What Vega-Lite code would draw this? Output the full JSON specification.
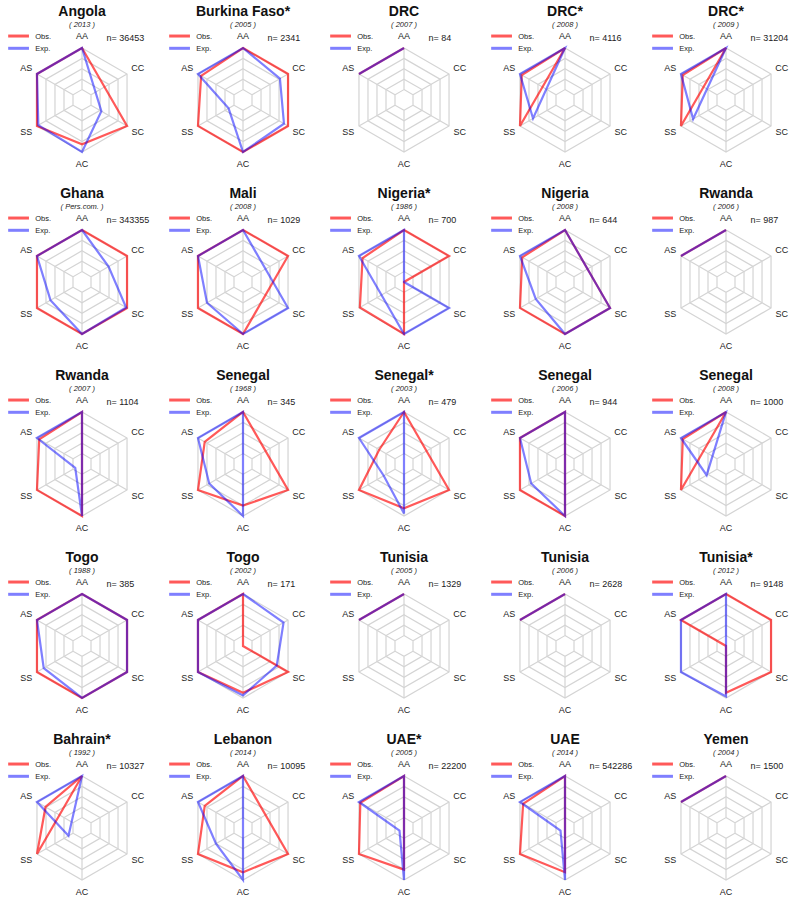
{
"$schema": "https://vega.github.io/schema/vega-lite/v6.json",
"padding": 0,
"background": "white",
"config": {
"view": {"stroke": null},
"font": "Liberation Sans",
"text": {"font": "Liberation Sans"},
"header": {"labels": false, "title": null, "labelPadding": 0, "titlePadding": 0},
"headerFacet": {"labels": false, "title": null, "labelPadding": 0, "titlePadding": 0},
"headerColumn": {"labels": false, "title": null, "labelPadding": 0, "titlePadding": 0},
"headerRow": {"labels": false, "title": null, "labelPadding": 0, "titlePadding": 0}
},
"datasets": {
"grid": [
{"lv":0.2,"a":"AA"},{"lv":0.2,"a":"CC"},{"lv":0.2,"a":"SC"},{"lv":0.2,"a":"AC"},{"lv":0.2,"a":"SS"},{"lv":0.2,"a":"AS"},
{"lv":0.4,"a":"AA"},{"lv":0.4,"a":"CC"},{"lv":0.4,"a":"SC"},{"lv":0.4,"a":"AC"},{"lv":0.4,"a":"SS"},{"lv":0.4,"a":"AS"},
{"lv":0.6,"a":"AA"},{"lv":0.6,"a":"CC"},{"lv":0.6,"a":"SC"},{"lv":0.6,"a":"AC"},{"lv":0.6,"a":"SS"},{"lv":0.6,"a":"AS"},
{"lv":0.8,"a":"AA"},{"lv":0.8,"a":"CC"},{"lv":0.8,"a":"SC"},{"lv":0.8,"a":"AC"},{"lv":0.8,"a":"SS"},{"lv":0.8,"a":"AS"},
{"lv":1,"a":"AA"},{"lv":1,"a":"CC"},{"lv":1,"a":"SC"},{"lv":1,"a":"AC"},{"lv":1,"a":"SS"},{"lv":1,"a":"AS"}
],
"d": [
{"p":1,"t":"Angola","yr":"2013","n":"36453","a":"AA","o":1,"e":1},{"p":1,"a":"CC","o":null,"e":null},{"p":1,"a":"SC","o":1,"e":0.43},{"p":1,"a":"AC","o":0.85,"e":1},{"p":1,"a":"SS","o":1,"e":0.97},{"p":1,"a":"AS","o":1,"e":1},
{"p":2,"t":"Burkina Faso*","yr":"2005","n":"2341","a":"AA","o":1,"e":1},{"p":2,"a":"CC","o":1,"e":0.82},{"p":2,"a":"SC","o":1,"e":0.91},{"p":2,"a":"AC","o":1,"e":1},{"p":2,"a":"SS","o":1,"e":0.32},{"p":2,"a":"AS","o":0.93,"e":1},
{"p":3,"t":"DRC","yr":"2007","n":"84","a":"AA","o":1,"e":1},{"p":3,"a":"CC","o":null,"e":null},{"p":3,"a":"SC","o":null,"e":null},{"p":3,"a":"AC","o":null,"e":null},{"p":3,"a":"SS","o":null,"e":null},{"p":3,"a":"AS","o":1,"e":1},
{"p":4,"t":"DRC*","yr":"2008","n":"4116","a":"AA","o":1,"e":1},{"p":4,"a":"CC","o":null,"e":null},{"p":4,"a":"SC","o":null,"e":null},{"p":4,"a":"AC","o":null,"e":null},{"p":4,"a":"SS","o":1,"e":0.71},{"p":4,"a":"AS","o":0.96,"e":1},
{"p":5,"t":"DRC*","yr":"2009","n":"31204","a":"AA","o":1,"e":1},{"p":5,"a":"CC","o":null,"e":null},{"p":5,"a":"SC","o":null,"e":null},{"p":5,"a":"AC","o":null,"e":null},{"p":5,"a":"SS","o":1,"e":0.73},{"p":5,"a":"AS","o":0.96,"e":1},
{"p":6,"t":"Ghana","yr":"Pers.com.","n":"343355","a":"AA","o":1,"e":1},{"p":6,"a":"CC","o":1,"e":0.59},{"p":6,"a":"SC","o":1,"e":0.98},{"p":6,"a":"AC","o":1,"e":1},{"p":6,"a":"SS","o":1,"e":0.7},{"p":6,"a":"AS","o":1,"e":1},
{"p":7,"t":"Mali","yr":"2008","n":"1029","a":"AA","o":1,"e":1},{"p":7,"a":"CC","o":1,"e":null},{"p":7,"a":"SC","o":null,"e":1},{"p":7,"a":"AC","o":1,"e":1},{"p":7,"a":"SS","o":1,"e":0.8},{"p":7,"a":"AS","o":1,"e":1},
{"p":8,"t":"Nigeria*","yr":"1986","n":"700","a":"AA","o":1,"e":1},{"p":8,"a":"CC","o":1,"e":0},{"p":8,"a":"SC","o":0,"e":1},{"p":8,"a":"AC","o":1,"e":1},{"p":8,"a":"SS","o":0.98,"e":null},{"p":8,"a":"AS","o":0.92,"e":1},
{"p":9,"t":"Nigeria","yr":"2008","n":"644","a":"AA","o":1,"e":1},{"p":9,"a":"CC","o":null,"e":null},{"p":9,"a":"SC","o":1,"e":1},{"p":9,"a":"AC","o":1,"e":1},{"p":9,"a":"SS","o":1,"e":0.65},{"p":9,"a":"AS","o":0.95,"e":1},
{"p":10,"t":"Rwanda","yr":"2006","n":"987","a":"AA","o":1,"e":1},{"p":10,"a":"CC","o":null,"e":null},{"p":10,"a":"SC","o":null,"e":null},{"p":10,"a":"AC","o":null,"e":null},{"p":10,"a":"SS","o":null,"e":null},{"p":10,"a":"AS","o":1,"e":1},
{"p":11,"t":"Rwanda","yr":"2007","n":"1104","a":"AA","o":1,"e":1},{"p":11,"a":"CC","o":null,"e":null},{"p":11,"a":"SC","o":null,"e":null},{"p":11,"a":"AC","o":1,"e":1},{"p":11,"a":"SS","o":1,"e":0.15},{"p":11,"a":"AS","o":0.95,"e":1},
{"p":12,"t":"Senegal","yr":"1968","n":"345","a":"AA","o":1,"e":1},{"p":12,"a":"CC","o":null,"e":null},{"p":12,"a":"SC","o":1,"e":null},{"p":12,"a":"AC","o":0.8,"e":1},{"p":12,"a":"SS","o":1,"e":0.75},{"p":12,"a":"AS","o":0.85,"e":1},
{"p":13,"t":"Senegal*","yr":"2003","n":"479","a":"AA","o":1,"e":1},{"p":13,"a":"CC","o":null,"e":null},{"p":13,"a":"SC","o":1,"e":null},{"p":13,"a":"AC","o":0.85,"e":0.95},{"p":13,"a":"SS","o":1,"e":0.45},{"p":13,"a":"AS","o":0.55,"e":1},
{"p":14,"t":"Senegal","yr":"2006","n":"944","a":"AA","o":1,"e":1},{"p":14,"a":"CC","o":null,"e":null},{"p":14,"a":"SC","o":null,"e":null},{"p":14,"a":"AC","o":1,"e":1},{"p":14,"a":"SS","o":1,"e":0.75},{"p":14,"a":"AS","o":1,"e":1},
{"p":15,"t":"Senegal","yr":"2008","n":"1000","a":"AA","o":1,"e":1},{"p":15,"a":"CC","o":null,"e":null},{"p":15,"a":"SC","o":null,"e":null},{"p":15,"a":"AC","o":null,"e":null},{"p":15,"a":"SS","o":1,"e":0.43},{"p":15,"a":"AS","o":0.96,"e":1},
{"p":16,"t":"Togo","yr":"1988","n":"385","a":"AA","o":1,"e":1},{"p":16,"a":"CC","o":1,"e":1},{"p":16,"a":"SC","o":1,"e":1},{"p":16,"a":"AC","o":1,"e":1},{"p":16,"a":"SS","o":1,"e":0.85},{"p":16,"a":"AS","o":1,"e":1},
{"p":17,"t":"Togo","yr":"2002","n":"171","a":"AA","o":1,"e":1},{"p":17,"a":"CC","o":0,"e":0.9},{"p":17,"a":"SC","o":1,"e":0.75},{"p":17,"a":"AC","o":0.9,"e":0.95},{"p":17,"a":"SS","o":1,"e":1},{"p":17,"a":"AS","o":1,"e":1},
{"p":18,"t":"Tunisia","yr":"2005","n":"1329","a":"AA","o":1,"e":1},{"p":18,"a":"CC","o":null,"e":null},{"p":18,"a":"SC","o":null,"e":null},{"p":18,"a":"AC","o":null,"e":null},{"p":18,"a":"SS","o":null,"e":null},{"p":18,"a":"AS","o":1,"e":1},
{"p":19,"t":"Tunisia","yr":"2006","n":"2628","a":"AA","o":1,"e":1},{"p":19,"a":"CC","o":null,"e":null},{"p":19,"a":"SC","o":null,"e":null},{"p":19,"a":"AC","o":null,"e":null},{"p":19,"a":"SS","o":null,"e":null},{"p":19,"a":"AS","o":1,"e":1},
{"p":20,"t":"Tunisia*","yr":"2012","n":"9148","a":"AA","o":1,"e":1},{"p":20,"a":"CC","o":1,"e":null},{"p":20,"a":"SC","o":1,"e":null},{"p":20,"a":"AC","o":0.9,"e":0.97},{"p":20,"a":"SS","o":0,"e":1},{"p":20,"a":"AS","o":1,"e":1},
{"p":21,"t":"Bahrain*","yr":"1992","n":"10327","a":"AA","o":1,"e":1},{"p":21,"a":"CC","o":null,"e":null},{"p":21,"a":"SC","o":null,"e":null},{"p":21,"a":"AC","o":null,"e":null},{"p":21,"a":"SS","o":1,"e":0.3},{"p":21,"a":"AS","o":0.81,"e":1},
{"p":22,"t":"Lebanon","yr":"2014","n":"10095","a":"AA","o":1,"e":1},{"p":22,"a":"CC","o":null,"e":null},{"p":22,"a":"SC","o":1,"e":null},{"p":22,"a":"AC","o":0.85,"e":1},{"p":22,"a":"SS","o":1,"e":0.6},{"p":22,"a":"AS","o":0.85,"e":1},
{"p":23,"t":"UAE*","yr":"2005","n":"22200","a":"AA","o":1,"e":1},{"p":23,"a":"CC","o":null,"e":null},{"p":23,"a":"SC","o":null,"e":null},{"p":23,"a":"AC","o":0.8,"e":1},{"p":23,"a":"SS","o":1,"e":0.1},{"p":23,"a":"AS","o":0.97,"e":1},
{"p":24,"t":"UAE","yr":"2014","n":"542286","a":"AA","o":1,"e":1},{"p":24,"a":"CC","o":null,"e":null},{"p":24,"a":"SC","o":null,"e":null},{"p":24,"a":"AC","o":0.85,"e":1},{"p":24,"a":"SS","o":1,"e":0.1},{"p":24,"a":"AS","o":0.93,"e":1},
{"p":25,"t":"Yemen","yr":"2004","n":"1500","a":"AA","o":1,"e":1},{"p":25,"a":"CC","o":null,"e":null},{"p":25,"a":"SC","o":null,"e":null},{"p":25,"a":"AC","o":null,"e":null},{"p":25,"a":"SS","o":null,"e":null},{"p":25,"a":"AS","o":1,"e":1}
]
},
"data": {"name": "d"},
"facet": {"field": "p", "type": "ordinal", "title": null, "header": {"labels": false, "title": null, "labelPadding": 0, "titlePadding": 0, "labelExpr": "''", "labelFontSize": 0}},
"columns": 5,
"spacing": 5,
"spec": {
"width": 156,
"height": 177,
"encoding": {
"x": {"field": "x", "type": "quantitative", "scale": {"domain": [-1.577, 1.423], "nice": false, "zero": false}, "axis": null},
"y": {"field": "y", "type": "quantitative", "scale": {"domain": [-1.481, 1.923], "nice": false, "zero": false}, "axis": null}
},
"layer": [
{
"data": {"name": "grid"},
"transform": [
{"calculate": "indexof(['AA','CC','SC','AC','SS','AS'], datum.a)", "as": "k"},
{"calculate": "datum.lv*sin(datum.k*PI/3)", "as": "x"},
{"calculate": "datum.lv*cos(datum.k*PI/3)", "as": "y"}
],
"mark": {"type": "line", "interpolate": "linear-closed", "color": "#d4d4d4", "strokeWidth": 1.2},
"encoding": {"detail": {"field": "lv"}, "order": {"field": "k"}}
},
{
"data": {"name": "grid"},
"transform": [
{"filter": "datum.lv == 1"},
{"calculate": "indexof(['AA','CC','SC','AC','SS','AS'], datum.a)", "as": "k"},
{"calculate": "0.2*sin(datum.k*PI/3)", "as": "x"},
{"calculate": "0.2*cos(datum.k*PI/3)", "as": "y"},
{"calculate": "sin(datum.k*PI/3)", "as": "x2"},
{"calculate": "cos(datum.k*PI/3)", "as": "y2"}
],
"mark": {"type": "rule", "color": "#d4d4d4", "strokeWidth": 1.2},
"encoding": {"x2": {"field": "x2"}, "y2": {"field": "y2"}}
},
{
"transform": [
{"calculate": "indexof(['AA','CC','SC','AC','SS','AS'], datum.a)", "as": "k"},
{"calculate": "1.24*sin(datum.k*PI/3)", "as": "x"},
{"calculate": "1.24*cos(datum.k*PI/3)", "as": "y"}
],
"mark": {"type": "text", "fontSize": 9, "color": "#222", "align": "center", "baseline": "middle"},
"encoding": {"text": {"field": "a"}}
},
{
"transform": [
{"filter": "isValid(datum.o)"},
{"calculate": "indexof(['AA','CC','SC','AC','SS','AS'], datum.a)", "as": "k"},
{"calculate": "datum.o*sin(datum.k*PI/3)", "as": "x"},
{"calculate": "datum.o*cos(datum.k*PI/3)", "as": "y"}
],
"mark": {"type": "line", "interpolate": "linear-closed", "color": "#ff0000", "opacity": 0.65, "strokeWidth": 2.2},
"encoding": {"order": {"field": "k"}}
},
{
"transform": [
{"filter": "isValid(datum.e)"},
{"calculate": "indexof(['AA','CC','SC','AC','SS','AS'], datum.a)", "as": "k"},
{"calculate": "datum.e*sin(datum.k*PI/3)", "as": "x"},
{"calculate": "datum.e*cos(datum.k*PI/3)", "as": "y"}
],
"mark": {"type": "line", "interpolate": "linear-closed", "color": "#0000ff", "opacity": 0.5, "strokeWidth": 2.2},
"encoding": {"order": {"field": "k"}}
},
{
"transform": [{"filter": "datum.a == 'AA'"}, {"calculate": "0", "as": "x"}, {"calculate": "1.615", "as": "y"}],
"mark": {"type": "text", "fontSize": 14, "fontWeight": "bold", "color": "#111", "align": "center", "baseline": "alphabetic"},
"encoding": {"text": {"field": "t"}}
},
{
"transform": [{"filter": "datum.a == 'AA'"}, {"calculate": "'( ' + datum.yr + ' )'", "as": "yl"}, {"calculate": "0", "as": "x"}, {"calculate": "1.4", "as": "y"}],
"mark": {"type": "text", "fontSize": 7.5, "fontStyle": "italic", "color": "#222", "align": "center", "baseline": "alphabetic"},
"encoding": {"text": {"field": "yl"}}
},
{
"transform": [{"filter": "datum.a == 'AA'"}, {"calculate": "'n= ' + datum.n", "as": "nl"}, {"calculate": "0.47", "as": "x"}, {"calculate": "1.125", "as": "y"}],
"mark": {"type": "text", "fontSize": 9, "color": "#222", "align": "left", "baseline": "alphabetic"},
"encoding": {"text": {"field": "nl"}}
},
{
"transform": [{"filter": "datum.a == 'AA'"}, {"calculate": "-1.42", "as": "x"}, {"calculate": "-1.02", "as": "x2"}, {"calculate": "1.23", "as": "y"}],
"mark": {"type": "rule", "color": "#ff0000", "opacity": 0.65, "strokeWidth": 3},
"encoding": {"x2": {"field": "x2"}}
},
{
"transform": [{"filter": "datum.a == 'AA'"}, {"calculate": "-1.42", "as": "x"}, {"calculate": "-1.02", "as": "x2"}, {"calculate": "0.994", "as": "y"}],
"mark": {"type": "rule", "color": "#0000ff", "opacity": 0.5, "strokeWidth": 3},
"encoding": {"x2": {"field": "x2"}}
},
{
"transform": [{"filter": "datum.a == 'AA'"}, {"calculate": "-0.9", "as": "x"}, {"calculate": "1.173", "as": "y"}],
"mark": {"type": "text", "fontSize": 7.5, "color": "#222", "align": "left", "baseline": "alphabetic"},
"encoding": {"text": {"value": "Obs."}}
},
{
"transform": [{"filter": "datum.a == 'AA'"}, {"calculate": "-0.9", "as": "x"}, {"calculate": "0.94", "as": "y"}],
"mark": {"type": "text", "fontSize": 7.5, "color": "#222", "align": "left", "baseline": "alphabetic"},
"encoding": {"text": {"value": "Exp."}}
}
]
}
}
